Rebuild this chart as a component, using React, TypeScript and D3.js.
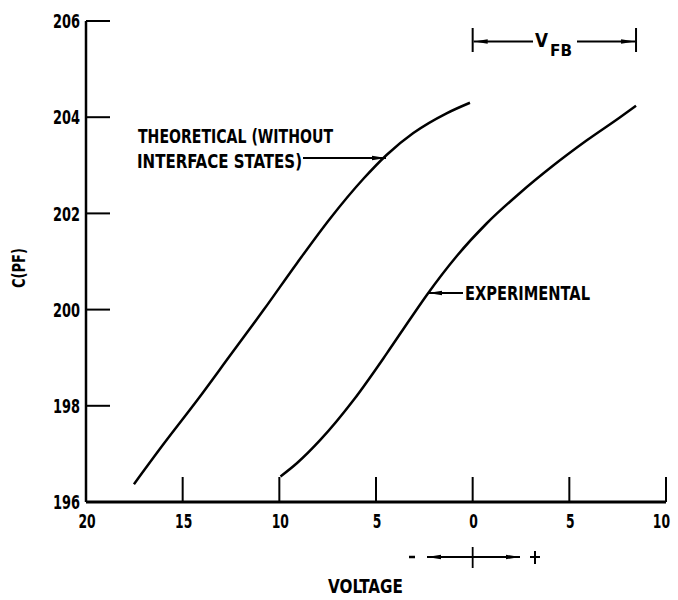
import React from "react";
import * as d3 from "d3";

const theoreticalV = [-17.52, -15.96, -14.24, -12.52, -10.8, -9.08, -7.36, -5.65, -4.44, -3.07, -1.35, -0.14];
const theoreticalC = [196.37, 197.22, 198.12, 199.06, 200.0, 200.97, 201.9, 202.72, 203.22, 203.67, 204.08, 204.3];
const experimentalV = [-9.94, -9.08, -7.88, -6.16, -4.44, -3.24, -2.38, -0.83, 0.72, 2.43, 4.15, 5.87, 7.59, 8.45];
const experimentalC = [196.53, 196.81, 197.29, 198.12, 199.09, 199.8, 200.3, 201.11, 201.79, 202.42, 202.99, 203.51, 203.99, 204.24];
const xTicks = [-20, -15, -10, -5, 0, 5, 10];
const yTicks = [196, 198, 200, 202, 204, 206];
const vfbRange = [0, 8.45];

const FONT = "'DejaVu Sans', sans-serif";

export default function App() {
  const W = 678, H = 600;
  const x = d3.scaleLinear().domain([-20, 10]).range([86, 666]);
  const y = d3.scaleLinear().domain([196, 206]).range([502, 21]);
  const line = d3
    .line<[number, number]>()
    .x((d) => x(d[0]))
    .y((d) => y(d[1]))
    .curve(d3.curveMonotoneX);
  const theo: [number, number][] = theoreticalV.map((v, i) => [v, theoreticalC[i]]);
  const expt: [number, number][] = experimentalV.map((v, i) => [v, experimentalC[i]]);

  const txt = { fontFamily: FONT, fontWeight: 700, fill: "#000", fontStretch: "condensed", lengthAdjust: "spacingAndGlyphs" } as const;
  const vfbY = 41.5;
  const x0 = x(vfbRange[0]);
  const x1 = x(vfbRange[1]);
  const digitW = 8.6;

  return (
    <svg width={W} height={H} style={{ position: "absolute", left: 0, top: 0, background: "#fff" }}>
      <defs>
        <marker id="ah" viewBox="0 0 14 6" refX="14" refY="3" markerWidth="14" markerHeight="6" markerUnits="userSpaceOnUse" orient="auto">
          <path d="M0,0.8 L14,3 L0,5.2 Z" fill="#000" />
        </marker>
      </defs>
      <rect width={W} height={H} fill="#fff" />

      {/* axes */}
      <line x1={x(-20)} x2={x(-20)} y1={y(206)} y2={y(196)} stroke="#000" strokeWidth={2.5} />
      <line x1={x(-20)} x2={x(10)} y1={y(196)} y2={y(196)} stroke="#000" strokeWidth={3} />
      {yTicks.map((t) => (
        <g key={"y" + t}>
          {t !== 196 && <line x1={x(-20)} x2={x(-20) + 24} y1={y(t)} y2={y(t)} stroke="#000" strokeWidth={2} />}
          <text x={80} y={y(t)} dy="0.36em" textAnchor="end" fontSize={20} textLength={27} {...txt}>
            {t}
          </text>
        </g>
      ))}
      {xTicks.map((t, i) => {
        const s = String(Math.abs(t));
        const last = i === xTicks.length - 1;
        return (
          <g key={"x" + t}>
            {t !== -20 && <line x1={x(t)} x2={x(t)} y1={y(196)} y2={y(196) - 25} stroke="#000" strokeWidth={2} />}
            <text
              x={last ? 670 : x(t) + 1}
              y={528}
              textAnchor={last ? "end" : "middle"}
              fontSize={19}
              textLength={s.length * digitW}
              {...txt}
            >
              {s}
            </text>
          </g>
        );
      })}

      {/* curves */}
      <path d={line(theo) || ""} fill="none" stroke="#000" strokeWidth={2.5} />
      <path d={line(expt) || ""} fill="none" stroke="#000" strokeWidth={2.5} />

      {/* y label */}
      <text transform={`translate(25, 268) rotate(-90)`} textAnchor="middle" fontSize={17} textLength={40} {...txt}>
        C(PF)
      </text>

      {/* theoretical annotation */}
      <text x={138} y={143} fontSize={20} textLength={195} {...txt}>THEORETICAL (WITHOUT</text>
      <text x={137} y={168} fontSize={20} textLength={165} {...txt}>INTERFACE STATES)</text>
      <line x1={303} x2={386} y1={158} y2={158} stroke="#000" strokeWidth={2} markerEnd="url(#ah)" />

      {/* experimental annotation */}
      <line x1={463} x2={428} y1={293} y2={293} stroke="#000" strokeWidth={2} markerEnd="url(#ah)" />
      <text x={465} y={300} fontSize={20} textLength={125} {...txt}>EXPERIMENTAL</text>

      {/* VFB */}
      <line x1={x0} x2={x0} y1={28} y2={52} stroke="#000" strokeWidth={2} />
      <line x1={x1} x2={x1} y1={28} y2={52} stroke="#000" strokeWidth={2} />
      <line x1={533} x2={x0 + 1} y1={vfbY} y2={vfbY} stroke="#000" strokeWidth={1.8} markerEnd="url(#ah)" />
      <line x1={577} x2={x1 - 1} y1={vfbY} y2={vfbY} stroke="#000" strokeWidth={1.8} markerEnd="url(#ah)" />
      <text x={535} y={47} fontSize={20} textLength={13} {...txt}>V</text>
      <text x={550} y={56} fontSize={15} textLength={22} {...txt}>FB</text>

      {/* sign arrows */}
      <line x1={409} x2={415} y1={557} y2={557} stroke="#000" strokeWidth={2.5} />
      <line x1={x(0)} x2={427} y1={557} y2={557} stroke="#000" strokeWidth={1.8} markerEnd="url(#ah)" />
      <line x1={x(0)} x2={520} y1={557} y2={557} stroke="#000" strokeWidth={1.8} markerEnd="url(#ah)" />
      <line x1={x(0)} x2={x(0)} y1={547} y2={568} stroke="#000" strokeWidth={1.8} />
      <line x1={535} x2={535} y1={551} y2={564} stroke="#000" strokeWidth={2} />
      <line x1={530} x2={540} y1={557} y2={557} stroke="#000" strokeWidth={2} />

      <text x={328} y={593} fontSize={20} textLength={75} {...txt}>VOLTAGE</text>
    </svg>
  );
}
